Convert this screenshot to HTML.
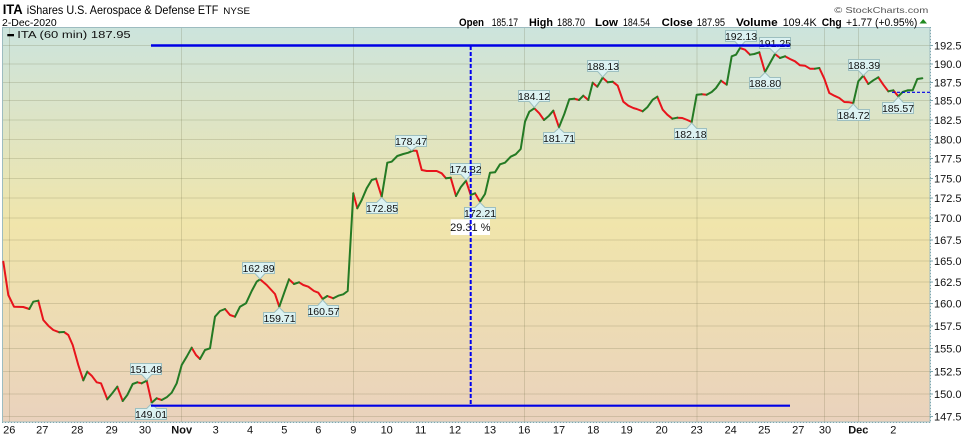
<!DOCTYPE html>
<html><head><meta charset="utf-8"><style>
html,body{margin:0;padding:0;background:#fff;width:962px;height:436px;overflow:hidden}
svg{display:block}
text{font-family:"Liberation Sans",Arial,sans-serif}
</style></head><body>
<svg width="962" height="436" viewBox="0 0 962 436" xmlns="http://www.w3.org/2000/svg">
<defs>
<linearGradient id="bg" x1="0" y1="27" x2="0" y2="422" gradientUnits="userSpaceOnUse">
<stop offset="0" stop-color="#cce4dd"/>
<stop offset="0.5" stop-color="#f0e5ab"/>
<stop offset="1" stop-color="#ead2bd"/>
</linearGradient>
</defs>
<rect x="0" y="0" width="962" height="436" fill="#fff"/>
<rect x="2.5" y="27.5" width="927.5" height="394.5" fill="url(#bg)" stroke="#9dbcc0" stroke-width="1"/>
<g stroke="rgba(100,100,60,0.2)" stroke-width="1">
<line x1="3" x2="930" y1="45.5" y2="45.5"/>
<line x1="3" x2="930" y1="64" y2="64"/>
<line x1="3" x2="930" y1="82.5" y2="82.5"/>
<line x1="3" x2="930" y1="100.5" y2="100.5"/>
<line x1="3" x2="930" y1="120" y2="120"/>
<line x1="3" x2="930" y1="139.5" y2="139.5"/>
<line x1="3" x2="930" y1="158.5" y2="158.5"/>
<line x1="3" x2="930" y1="178.5" y2="178.5"/>
<line x1="3" x2="930" y1="198" y2="198"/>
<line x1="3" x2="930" y1="218" y2="218"/>
<line x1="3" x2="930" y1="240" y2="240"/>
<line x1="3" x2="930" y1="261" y2="261"/>
<line x1="3" x2="930" y1="282" y2="282"/>
<line x1="3" x2="930" y1="303.5" y2="303.5"/>
<line x1="3" x2="930" y1="326" y2="326"/>
<line x1="3" x2="930" y1="348.5" y2="348.5"/>
<line x1="3" x2="930" y1="371.5" y2="371.5"/>
<line x1="3" x2="930" y1="394" y2="394"/>
<line x1="3" x2="930" y1="416.5" y2="416.5"/>
<line x1="9.5" x2="9.5" y1="28" y2="422"/>
<line x1="181.5" x2="181.5" y1="28" y2="422"/>
<line x1="353.5" x2="353.5" y1="28" y2="422"/>
<line x1="524.5" x2="524.5" y1="28" y2="422"/>
<line x1="697" x2="697" y1="28" y2="422"/>
<line x1="824.5" x2="824.5" y1="28" y2="422"/>
<line x1="858.5" x2="858.5" y1="28" y2="422"/>
</g>
<!-- axes -->
<line x1="2" x2="931" y1="422.5" y2="422.5" stroke="#7fa7b0" stroke-width="1" stroke-dasharray="1,2"/>
<line x1="930.5" x2="930.5" y1="27" y2="423" stroke="#7fa7b0" stroke-width="1" stroke-dasharray="1,2"/>
<g stroke="#7fa7b0" stroke-width="1">
<line x1="930" x2="933" y1="45.5" y2="45.5"/><line x1="930" x2="933" y1="64" y2="64"/><line x1="930" x2="933" y1="82.5" y2="82.5"/><line x1="930" x2="933" y1="100.5" y2="100.5"/><line x1="930" x2="933" y1="120" y2="120"/><line x1="930" x2="933" y1="139.5" y2="139.5"/><line x1="930" x2="933" y1="158.5" y2="158.5"/><line x1="930" x2="933" y1="178.5" y2="178.5"/><line x1="930" x2="933" y1="198" y2="198"/><line x1="930" x2="933" y1="218" y2="218"/><line x1="930" x2="933" y1="240" y2="240"/><line x1="930" x2="933" y1="261" y2="261"/><line x1="930" x2="933" y1="282" y2="282"/><line x1="930" x2="933" y1="303.5" y2="303.5"/><line x1="930" x2="933" y1="326" y2="326"/><line x1="930" x2="933" y1="348.5" y2="348.5"/><line x1="930" x2="933" y1="371.5" y2="371.5"/><line x1="930" x2="933" y1="394" y2="394"/><line x1="930" x2="933" y1="416.5" y2="416.5"/>
</g>
<!-- y labels -->
<g font-size="11" fill="#111">
<text x="934" y="49.5">192.5</text>
<text x="934" y="68">190.0</text>
<text x="934" y="86.5">187.5</text>
<text x="934" y="104.5">185.0</text>
<text x="934" y="124">182.5</text>
<text x="934" y="143.5">180.0</text>
<text x="934" y="162.5">177.5</text>
<text x="934" y="182.5">175.0</text>
<text x="934" y="202">172.5</text>
<text x="934" y="222">170.0</text>
<text x="934" y="244">167.5</text>
<text x="934" y="265">165.0</text>
<text x="934" y="286">162.5</text>
<text x="934" y="307.5">160.0</text>
<text x="934" y="330">157.5</text>
<text x="934" y="352.5">155.0</text>
<text x="934" y="375.5">152.5</text>
<text x="934" y="398">150.0</text>
<text x="934" y="420.5">147.5</text>
</g>
<!-- x labels -->
<g font-size="11" fill="#111" text-anchor="middle">
<text x="9.3" y="433.5">26</text>
<text x="42.3" y="433.5">27</text>
<text x="77.3" y="433.5">28</text>
<text x="111.7" y="433.5">29</text>
<text x="145" y="433.5">30</text>
<text x="181.7" y="433.5" font-weight="bold">Nov</text>
<text x="215.7" y="433.5">3</text>
<text x="250" y="433.5">4</text>
<text x="284.3" y="433.5">5</text>
<text x="318.3" y="433.5">6</text>
<text x="353.3" y="433.5">9</text>
<text x="386.7" y="433.5">10</text>
<text x="420.7" y="433.5">11</text>
<text x="455" y="433.5">12</text>
<text x="490" y="433.5">13</text>
<text x="524.3" y="433.5">16</text>
<text x="559" y="433.5">17</text>
<text x="593.3" y="433.5">18</text>
<text x="626.7" y="433.5">19</text>
<text x="661.7" y="433.5">20</text>
<text x="696.7" y="433.5">23</text>
<text x="730.7" y="433.5">24</text>
<text x="764.3" y="433.5">25</text>
<text x="798.3" y="433.5">27</text>
<text x="825" y="433.5">30</text>
<text x="858.3" y="433.5" font-weight="bold">Dec</text>
<text x="893.3" y="433.5">2</text>
</g>
<!-- price line -->
<g fill="none" stroke-width="2" stroke-linejoin="round" stroke-linecap="round">
<path stroke="#e8141c" d="M3.3,261.7 L8.3,295 L14,306.7 L23.3,307 L29.3,309 M38.3,300.7 L43.3,320 L48.3,325.7 L53.3,330 L59.3,332.3 M64,332 L68.3,335 L72.7,345 L78.3,365 L83.3,380.3 M87.3,371.7 L91.7,375.7 L96.7,382.3 L101,383.3 L107.3,399.3 M117.3,386.7 L122.7,401 M137.3,382.3 L141.7,383.3 M146.7,380.7 L151.7,402.7 M156.7,398.3 L161.7,400 M191.7,347.7 L196,355 L200,359 M225,309 L230,315 L235,316.7 M260,279.3 L266.7,285 L275,294 L279.3,306.7 M289,279.3 L294,284 M299,282.3 L303.3,285 L308.3,286.7 L314,291 L318.3,292.7 L322.7,299 M327.3,296 L333.3,298.3 M353.3,193.3 L357.3,208.3 M376,178.7 L381.7,196.7 M412.7,150.7 L416.7,150.7 L421.7,170 L426.7,171 L431.7,171 L436.7,171 L441.7,173.3 L446,178.3 M450.7,177.7 L456,196 M466,180.7 L470.7,195 M475,193.3 L480,201.7 M534.3,108.3 L539.3,113.3 L544,120 M553.3,110.7 L559,127.3 M574.3,98.7 L579,100 M583.3,95.7 L588.3,100 M592.7,82.7 L597.3,86.7 M602.7,77.7 L607.7,82.3 M612.7,81.7 L617.7,85.7 L623.3,101.7 L628.3,105.7 L633.3,108 L636.7,109 L642.7,111.3 M657.3,96.7 L662.7,109.7 L667.3,114.7 L672.3,118.7 M677.3,117.7 L682.3,118 L687.3,120 L691.7,122 M701.7,94.3 L706.7,94.7 M721,80.7 L726.7,84.7 M740,48 L745,49.7 L750,54.7 M759.3,52.3 L765,72 M775,54 L780,58 M785,56.3 L790,59 L795,61.3 L800,65.3 L805,65.7 L810,68.7 L815,68.7 M819.3,68 L824.3,78.7 L829.3,93 L834.3,95.7 L839.3,98 L844.3,102 L849.3,102.3 L853.3,103 M863.3,75.7 L868.3,84 M878.3,77.3 L883.3,84.7 L888.3,91.3 M893.3,90.3 L898.3,96.3"/>
<path stroke="#247a24" d="M29.3,309 L33.3,301.7 L38.3,300.7 M59.3,332.3 L64,332 M83.3,380.3 L87.3,371.7 M107.3,399.3 L112.7,392.7 L117.3,386.7 M122.7,401 L127.3,395 L132.7,384 L137.3,382.3 M141.7,383.3 L146.7,380.7 M151.7,402.7 L156.7,398.3 M161.7,400 L166.7,397.3 L171.7,392.7 L176.7,383.3 L181.7,365 L186.7,356.7 L191.7,347.7 M200,359 L205,350 L210,348.3 L215,316.7 L220,311 L225,309 M235,316.7 L240,306.7 L246,303.3 L251.7,291 L256.7,281.7 L260,279.3 M279.3,306.7 L284,293.3 L289,279.3 M294,284 L299,282.3 M322.7,299 L327.3,296 M333.3,298.3 L338.3,295.7 L343.3,294.3 L347.7,291 L353.3,193.3 M357.3,208.3 L361.7,200 L366.7,188.3 L371.7,180 L376,178.7 M381.7,196.7 L387.3,162.7 L391.7,161.7 L397.3,156 L403.3,154 L408.3,152.7 L412.7,150.7 M446,178.3 L450.7,177.7 M456,196 L460.7,187.3 L466,180.7 M470.7,195 L475,193.3 M480,201.7 L485,194 L490,172.7 L495,172.3 L500,164.3 L505,162.7 L510.7,156.7 L515.7,154.3 L520.7,149 L525,121.7 L529.3,111.7 L534.3,108.3 M544,120 L549,115.7 L553.3,110.7 M559,127.3 L564.3,114 L569.3,99.3 L574.3,98.7 M579,100 L583.3,95.7 M588.3,100 L592.7,82.7 M597.3,86.7 L602.7,77.7 M607.7,82.3 L612.7,81.7 M642.7,111.3 L647.3,107.3 L652.7,99.7 L657.3,96.7 M672.3,118.7 L677.3,117.7 M691.7,122 L696.7,94.7 L701.7,94.3 M706.7,94.7 L711.7,92 L716,88 L721,80.7 M726.7,84.7 L731.7,56.3 L736,54.7 L740,48 M750,54.7 L754.3,54 L759.3,52.3 M765,72 L770,63 L775,54 M780,58 L785,56.3 M815,68.7 L819.3,68 M853.3,103 L858.3,81.3 L863.3,75.7 M868.3,84 L873.3,80.3 L878.3,77.3 M888.3,91.3 L893.3,90.3 M898.3,96.3 L902.7,92 L907.7,90.3 L912.7,90.3 L917.3,79 L922.3,78.3"/>
</g>
<!-- annotation boxes -->
<g fill="#dcf2f2" stroke="#9dbfc0" stroke-width="1">
<!-- down pointers: box above point -->
<path d="M130.5,363.5 H161.5 V374.5 H151.7 L146.7,380 L141.7,374.5 H130.5 Z"/>
<path d="M242.5,262.5 H274.5 V273.5 H265 L260,279 L255,273.5 H242.5 Z"/>
<path d="M395.5,135.5 H426.5 V146.5 H416.7 L411.7,150.5 L406.7,146.5 H395.5 Z"/>
<path d="M450.5,163.5 H480.5 V174.5 H471 L466,180 L461,174.5 H450.5 Z"/>
<path d="M518.5,90.5 H549.5 V101.5 H539.3 L534.3,107.5 L529.3,101.5 H518.5 Z"/>
<path d="M587.5,60.5 H618.5 V71.5 H607.7 L602.7,77 L597.7,71.5 H587.5 Z"/>
<path d="M725.5,30.5 H756.5 V41.5 H745 L740,47 L735,41.5 H725.5 Z"/>
<path d="M759.5,37.5 H790.5 V48.5 H780 L775,53.5 L770,48.5 H759.5 Z"/>
<path d="M848.5,59.5 H879.5 V70.5 H868.3 L863.3,75.5 L858.3,70.5 H848.5 Z"/>
<!-- up pointers: box below point -->
<path d="M135.5,408.5 H146.7 L151.7,403.5 L156.7,408.5 H166.5 V419.5 H135.5 Z"/>
<path d="M263.5,312.5 H274.3 L279.3,307.5 L284.3,312.5 H295.5 V323.5 H263.5 Z"/>
<path d="M308.5,305.5 H317.7 L322.7,300 L327.7,305.5 H338.5 V316.5 H308.5 Z"/>
<path d="M366.5,202.5 H376.7 L381.7,197.5 L386.7,202.5 H397.5 V213.5 H366.5 Z"/>
<path d="M464.5,207.5 H475 L480,202.5 L485,207.5 H495.5 V218.5 H464.5 Z"/>
<path d="M543.5,132.5 H554 L559,128 L564,132.5 H574.5 V143.5 H543.5 Z"/>
<path d="M674.5,128.5 H686.7 L691.7,123 L696.7,128.5 H706.5 V139.5 H674.5 Z"/>
<path d="M749.5,77.5 H760 L765,72.5 L770,77.5 H780.5 V88.5 H749.5 Z"/>
<path d="M837.5,109.5 H848.3 L853.3,104 L858.3,109.5 H869.5 V120.5 H837.5 Z"/>
<path d="M882.5,102.5 H893.3 L898.3,97 L903.3,102.5 H913.5 V113.5 H882.5 Z"/>
</g>
<g font-size="10.5" fill="#111" text-anchor="middle">
<text x="146" y="373">151.48</text>
<text x="258.5" y="272">162.89</text>
<text x="411" y="145">178.47</text>
<text x="465.5" y="173">174.82</text>
<text x="534" y="100">184.12</text>
<text x="603" y="70">188.13</text>
<text x="741" y="40">192.13</text>
<text x="775" y="47">191.25</text>
<text x="864" y="69">188.39</text>
<text x="151" y="418">149.01</text>
<text x="279.5" y="322">159.71</text>
<text x="323.5" y="315">160.57</text>
<text x="382" y="212">172.85</text>
<text x="480" y="217">172.21</text>
<text x="559" y="142">181.71</text>
<text x="690.5" y="138">182.18</text>
<text x="765" y="87">188.80</text>
<text x="853.5" y="119">184.72</text>
<text x="898" y="112">185.57</text>
</g>
<!-- percentage box -->
<rect x="450.7" y="219.3" width="39.3" height="15.7" fill="#fff"/>
<text x="470.3" y="231" font-size="11" fill="#111" text-anchor="middle">29.31 %</text>
<!-- blue annotation lines -->
<line x1="151" x2="790" y1="45.5" y2="45.5" stroke="#0000e6" stroke-width="2.5"/>
<line x1="151" x2="790" y1="405.7" y2="405.7" stroke="#0000e6" stroke-width="2.2"/>
<line x1="470.7" x2="470.7" y1="46" y2="405" stroke="#0000f0" stroke-width="2" stroke-dasharray="4,2"/>
<line x1="892" x2="930" y1="92.3" y2="92.3" stroke="#0000e6" stroke-width="1.2" stroke-dasharray="3,2"/>
<!-- legend -->
<rect x="7.3" y="34" width="6.7" height="2.3" fill="#000"/>
<text x="17.3" y="38" font-family="DejaVu Sans, sans-serif" font-size="10" fill="#111" textLength="113.4" lengthAdjust="spacingAndGlyphs">ITA (60 min) 187.95</text>
<!-- header left -->
<text x="2.7" y="14" font-size="14" font-weight="bold" fill="#000" textLength="20" lengthAdjust="spacingAndGlyphs">ITA</text>
<text x="26.7" y="14" font-size="12" fill="#000" textLength="191.6" lengthAdjust="spacingAndGlyphs">iShares U.S. Aerospace &amp; Defense ETF</text>
<text x="223.3" y="14" font-size="9.5" fill="#000" textLength="26.7" lengthAdjust="spacingAndGlyphs">NYSE</text>
<text x="2" y="26" font-size="10.5" fill="#000" textLength="54.7" lengthAdjust="spacingAndGlyphs">2-Dec-2020</text>
<!-- header right -->
<text x="834.3" y="13" font-size="8.5" fill="#555" textLength="94" lengthAdjust="spacingAndGlyphs">© StockCharts.com</text>
<g font-size="11" fill="#000">
<text x="459" y="25.8" font-weight="bold" textLength="25" lengthAdjust="spacingAndGlyphs">Open</text>
<text x="491.7" y="25.8" textLength="26.3" lengthAdjust="spacingAndGlyphs">185.17</text>
<text x="529" y="25.8" font-weight="bold" textLength="24" lengthAdjust="spacingAndGlyphs">High</text>
<text x="557" y="25.8" textLength="28" lengthAdjust="spacingAndGlyphs">188.70</text>
<text x="595" y="25.8" font-weight="bold" textLength="23" lengthAdjust="spacingAndGlyphs">Low</text>
<text x="623" y="25.8" textLength="27" lengthAdjust="spacingAndGlyphs">184.54</text>
<text x="661.7" y="25.8" font-weight="bold" textLength="31" lengthAdjust="spacingAndGlyphs">Close</text>
<text x="696.7" y="25.8" textLength="28.3" lengthAdjust="spacingAndGlyphs">187.95</text>
<text x="736" y="25.8" font-weight="bold" textLength="41.7" lengthAdjust="spacingAndGlyphs">Volume</text>
<text x="782.7" y="25.8" textLength="34" lengthAdjust="spacingAndGlyphs">109.4K</text>
<text x="821.7" y="25.8" font-weight="bold" textLength="20" lengthAdjust="spacingAndGlyphs">Chg</text>
<text x="846" y="25.8" textLength="71.3" lengthAdjust="spacingAndGlyphs">+1.77 (+0.95%)</text>
</g>
<polygon points="919.5,23.5 927,23.5 923.2,19" fill="#1f8a1f"/>
</svg>
</body></html>
